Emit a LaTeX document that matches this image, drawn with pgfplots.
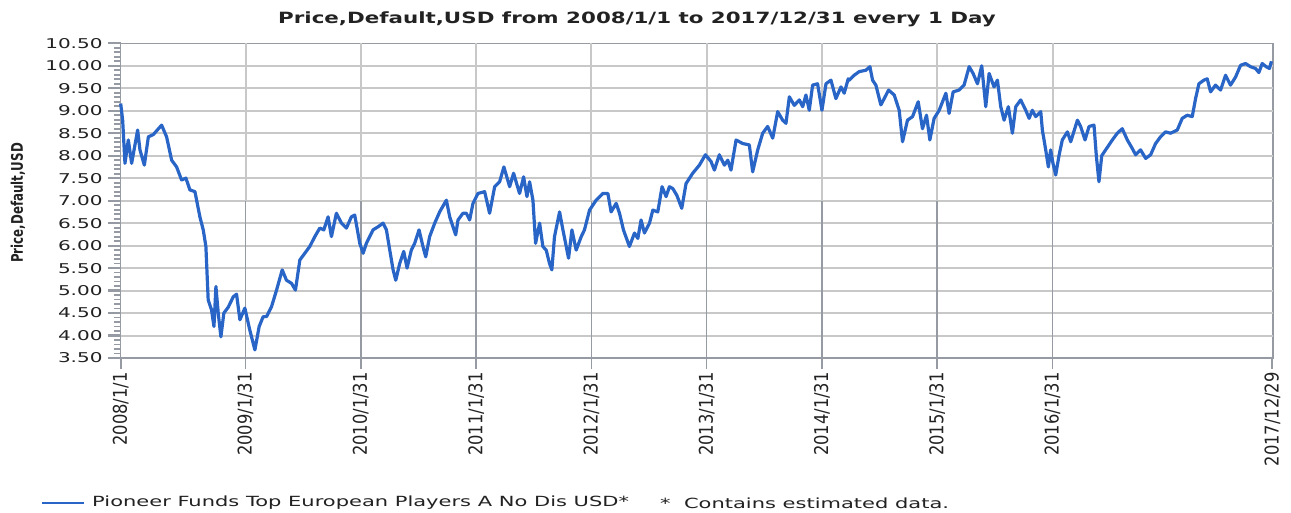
\documentclass[border=0pt]{standalone}
\usepackage{pgfplots}
\pgfplotsset{compat=1.18}
\usepackage{fontspec}
\setmainfont{DejaVu Sans}
\newfontfamily\titlefont{DejaVu Sans}[FakeStretch=1.38]
\newfontfamily\ytickfont{DejaVu Sans}[FakeStretch=1.48]
\newfontfamily\xtickfont{DejaVu Sans}[FakeStretch=0.86]
\newfontfamily\ylabfont{DejaVu Sans}[FakeStretch=0.74]
\newfontfamily\legfont{DejaVu Sans}[FakeStretch=1.5]
\definecolor{serieblue}{RGB}{41,101,199}
\definecolor{axgray}{RGB}{150,155,163}
\definecolor{gridgray}{RGB}{200,200,200}
\definecolor{txt}{RGB}{34,34,34}
\begin{document}
\begin{tikzpicture}
\path (-120.7pt,-154pt) rectangle (1170.3pt,358pt);
\begin{axis}[
  at={(0pt,0pt)}, anchor=south west,
  width=1152.3pt, height=314.7pt, scale only axis,
  xmin=2008, xmax=2017.995,
  ymin=3.5, ymax=10.5,
  ytick={3.5,4,...,10.5},
  xtick={2008,2009.083,2010.083,2011.083,2012.083,2013.083,2014.083,2015.083,2016.083,2017.99},
  xticklabels={2008/1/1,2009/1/31,2010/1/31,2011/1/31,2012/1/31,2013/1/31,2014/1/31,2015/1/31,2016/1/31,2017/12/29},
  tick pos=left,
  major tick length=0pt,
  axis line style={axgray, line width=1.5pt},
  /pgf/number format/assume math mode=true,
  yticklabel={\pgfmathprintnumber[fixed,fixed zerofill,precision=2]{\tick}},
  yticklabel style={font=\ytickfont\fontsize{13.5}{15}\selectfont, text=txt, anchor=east, inner sep=0pt},
  yticklabel shift=18pt,
  xticklabel style={font=\xtickfont\fontsize{19}{21}\selectfont, text=txt, rotate=90, anchor=east, inner sep=0pt},
  xticklabel shift=14pt,
  clip=false,
]
% horizontal grid lines
\pgfplotsinvokeforeach{4,4.5,5,5.5,6,6.5,7,7.5,8,8.5,9,9.5,10}{
  \draw[gridgray, line width=2pt] (axis cs:2008,#1) -- (axis cs:2017.995,#1);
}
% vertical grid lines and x ticks
\pgfplotsinvokeforeach{2009.083,2010.083,2011.083,2012.083,2013.083,2014.083,2015.083,2016.083}{
  \draw[gridgray, line width=2pt] (axis cs:#1,7.0) -- (axis cs:#1,10.5);
  \draw[axgray, line width=1.6pt] ([yshift=-11pt]axis cs:#1,3.5) -- (axis cs:#1,7.0);
}
\fill[axgray] ([xshift=-1pt,yshift=-11pt]axis cs:2008,3.5) rectangle ([xshift=1pt]axis cs:2008,3.5);
\fill[axgray] ([xshift=-1pt,yshift=-11pt]axis cs:2017.99,3.5) rectangle ([xshift=1pt]axis cs:2017.99,3.5);
% y ticks
\pgfplotsinvokeforeach{3.5,4,4.5,5,5.5,6,6.5,7,7.5,8,8.5,9,9.5,10,10.5}{
  \fill[axgray] ([xshift=-13pt,yshift=-1.1pt]axis cs:2008,#1) rectangle ([yshift=1.1pt]axis cs:2008,#1);
}
\pgfplotsinvokeforeach{3.6,3.7,3.8,3.9,4.1,4.2,4.3,4.4,4.6,4.7,4.8,4.9,5.1,5.2,5.3,5.4,5.6,5.7,5.8,5.9,6.1,6.2,6.3,6.4,6.6,6.7,6.8,6.9,7.1,7.2,7.3,7.4,7.6,7.7,7.8,7.9,8.1,8.2,8.3,8.4,8.6,8.7,8.8,8.9,9.1,9.2,9.3,9.4,9.6,9.7,9.8,9.9,10.1,10.2,10.3,10.4}{
  \fill[axgray] ([xshift=-7pt,yshift=-0.9pt]axis cs:2008,#1) rectangle ([yshift=0.9pt]axis cs:2008,#1);
}
\addplot[serieblue, line width=3.2pt, line join=round, no markers] table {
x y
2008.000 9.16
2008.017 8.79
2008.037 7.83
2008.066 8.35
2008.095 7.83
2008.147 8.57
2008.167 8.13
2008.205 7.79
2008.240 8.42
2008.283 8.47
2008.355 8.68
2008.398 8.42
2008.442 7.90
2008.485 7.75
2008.528 7.46
2008.566 7.50
2008.600 7.24
2008.644 7.20
2008.687 6.64
2008.716 6.35
2008.739 5.98
2008.759 4.79
2008.788 4.57
2008.809 4.20
2008.826 5.09
2008.846 4.50
2008.869 3.97
2008.895 4.50
2008.933 4.63
2008.976 4.86
2009.005 4.92
2009.034 4.35
2009.077 4.61
2009.120 4.12
2009.164 3.68
2009.201 4.20
2009.236 4.42
2009.265 4.42
2009.308 4.64
2009.352 5.01
2009.401 5.46
2009.438 5.23
2009.482 5.16
2009.516 5.01
2009.554 5.68
2009.597 5.83
2009.640 5.98
2009.684 6.20
2009.727 6.39
2009.762 6.35
2009.799 6.64
2009.828 6.20
2009.871 6.72
2009.915 6.50
2009.958 6.39
2010.001 6.64
2010.030 6.68
2010.074 6.05
2010.103 5.83
2010.131 6.05
2010.189 6.35
2010.233 6.42
2010.276 6.50
2010.305 6.35
2010.334 5.90
2010.363 5.46
2010.386 5.23
2010.420 5.60
2010.455 5.87
2010.484 5.50
2010.521 5.90
2010.550 6.05
2010.588 6.35
2010.622 5.98
2010.646 5.75
2010.680 6.20
2010.724 6.50
2010.767 6.75
2010.825 7.01
2010.854 6.64
2010.906 6.24
2010.926 6.57
2010.969 6.72
2010.998 6.72
2011.027 6.57
2011.056 6.94
2011.099 7.16
2011.157 7.20
2011.200 6.72
2011.244 7.31
2011.287 7.42
2011.324 7.75
2011.374 7.31
2011.408 7.61
2011.460 7.16
2011.495 7.53
2011.524 7.09
2011.547 7.42
2011.576 7.01
2011.599 6.05
2011.634 6.50
2011.662 5.98
2011.691 5.90
2011.720 5.60
2011.740 5.46
2011.763 6.20
2011.807 6.75
2011.836 6.35
2011.885 5.72
2011.914 6.35
2011.951 5.90
2011.995 6.20
2012.023 6.35
2012.067 6.79
2012.124 7.01
2012.182 7.16
2012.226 7.16
2012.254 6.75
2012.298 6.94
2012.327 6.72
2012.361 6.35
2012.413 5.98
2012.457 6.28
2012.486 6.16
2012.514 6.57
2012.543 6.28
2012.587 6.50
2012.616 6.79
2012.659 6.75
2012.696 7.31
2012.731 7.09
2012.760 7.31
2012.789 7.27
2012.824 7.12
2012.867 6.83
2012.904 7.38
2012.962 7.61
2013.020 7.79
2013.072 8.02
2013.121 7.87
2013.150 7.68
2013.193 8.02
2013.237 7.79
2013.266 7.90
2013.294 7.68
2013.338 8.35
2013.396 8.27
2013.453 8.24
2013.482 7.64
2013.526 8.13
2013.569 8.50
2013.612 8.65
2013.656 8.39
2013.699 8.98
2013.742 8.79
2013.771 8.72
2013.800 9.31
2013.843 9.12
2013.887 9.24
2013.916 9.09
2013.944 9.35
2013.973 9.01
2014.002 9.57
2014.045 9.60
2014.083 9.01
2014.118 9.60
2014.161 9.68
2014.204 9.27
2014.248 9.53
2014.276 9.39
2014.311 9.71
2014.320 9.68
2014.363 9.79
2014.406 9.87
2014.464 9.90
2014.499 9.98
2014.522 9.68
2014.551 9.57
2014.594 9.13
2014.623 9.27
2014.661 9.46
2014.710 9.35
2014.753 9.01
2014.782 8.31
2014.825 8.79
2014.869 8.87
2014.918 9.20
2014.955 8.60
2014.990 8.90
2015.019 8.35
2015.056 8.83
2015.100 9.01
2015.158 9.39
2015.186 8.94
2015.221 9.42
2015.273 9.46
2015.316 9.57
2015.360 9.98
2015.394 9.83
2015.432 9.60
2015.469 10.00
2015.504 9.09
2015.533 9.83
2015.576 9.53
2015.605 9.68
2015.634 9.09
2015.663 8.79
2015.700 9.09
2015.735 8.50
2015.764 9.09
2015.807 9.24
2015.851 9.01
2015.880 8.83
2015.908 9.01
2015.937 8.87
2015.981 8.98
2015.995 8.57
2016.024 8.13
2016.047 7.75
2016.067 8.13
2016.087 7.83
2016.111 7.57
2016.139 8.00
2016.168 8.35
2016.212 8.53
2016.241 8.31
2016.299 8.79
2016.327 8.65
2016.365 8.35
2016.400 8.65
2016.443 8.68
2016.463 8.00
2016.486 7.42
2016.510 8.00
2016.544 8.13
2016.602 8.35
2016.645 8.50
2016.688 8.60
2016.732 8.35
2016.775 8.16
2016.804 8.02
2016.847 8.13
2016.891 7.94
2016.934 8.02
2016.977 8.27
2017.020 8.42
2017.064 8.53
2017.107 8.50
2017.165 8.57
2017.208 8.83
2017.251 8.90
2017.295 8.87
2017.324 9.27
2017.353 9.60
2017.396 9.68
2017.425 9.71
2017.454 9.42
2017.497 9.57
2017.541 9.46
2017.584 9.79
2017.627 9.57
2017.671 9.75
2017.714 10.01
2017.757 10.05
2017.800 9.98
2017.844 9.94
2017.873 9.85
2017.902 10.05
2017.936 9.98
2017.965 9.94
2017.982 10.10
};
\end{axis}
\node[font=\titlefont\bfseries\fontsize{15.5}{18}\selectfont, text=txt] at (516.3pt,339pt) {Price,Default,USD from 2008/1/1 to 2017/12/31 every 1 Day};
\node[font=\ylabfont\bfseries\fontsize{16}{18}\selectfont, text=txt, rotate=90] at (-102.7pt,155pt) {Price,Default,USD};
\draw[serieblue, line width=2pt] (-78.7pt,-145pt) -- (-36.7pt,-145pt);
\node[font=\legfont\fontsize{14}{16}\selectfont, text=txt, anchor=west, inner sep=0pt] at (-28.7pt,-145pt) {Pioneer Funds Top European Players A No Dis USD*};
\node[font=\legfont\fontsize{14}{16}\selectfont, text=txt, anchor=west, inner sep=0pt] at (539.3pt,-145pt) {*\ \ Contains estimated data.};
\end{tikzpicture}
\end{document}
